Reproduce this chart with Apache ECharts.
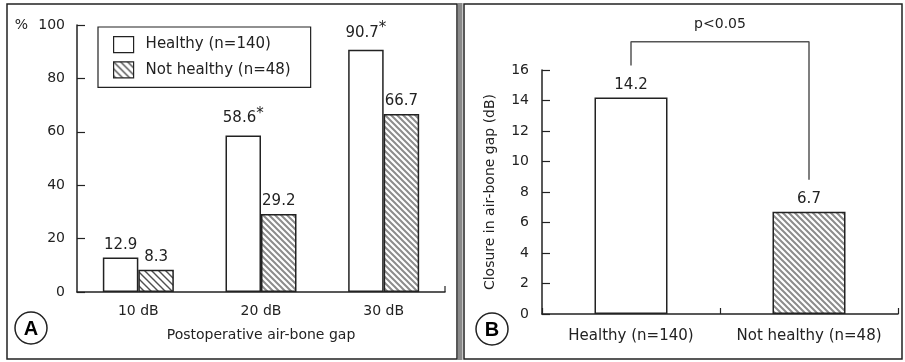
<!DOCTYPE html>
<html>
<head>
<meta charset="utf-8">
<style>
  html, body { margin: 0; padding: 0; background: #fff; }
  #chart { width: 905px; height: 362px; }
</style>
<script src="https://cdn.jsdelivr.net/npm/echarts@6/dist/echarts.min.js"></script>
</head>
<body>
<div id="chart"></div>
<script>
// Panel A: share of ears reaching each postoperative air-bone gap threshold
const categoriesA = ['10 dB', '20 dB', '30 dB'];
const healthyA = [12.9, 58.6, 90.7];
const notHealthyA = [8.3, 29.2, 66.7];
const starredA = [false, true, true];   // significant difference marker

// Panel B: mean closure in air-bone gap
const categoriesB = ['Healthy (n=140)', 'Not healthy (n=48)'];
const valuesB = [14.2, 6.7];
// significance bracket: [category index, dB]
const bracketB = [[0, 16.3], [0, 17.85], [1, 17.85], [1, 8.8]];
const bracketText = 'p<0.05';

const seriesNames = ['Healthy (n=140)', 'Not healthy (n=48)'];

const FONT = 'DejaVu Sans';
const INK = '#222';

function stripes(size, color, width) {
  const c = document.createElement('canvas');
  c.width = size; c.height = size;
  const g = c.getContext('2d');
  g.fillStyle = '#fff';
  g.fillRect(0, 0, size, size);
  g.strokeStyle = color;
  g.lineWidth = width;
  g.beginPath();
  // "\" diagonal, wrapped at the corners so the tile repeats seamlessly
  g.moveTo(-1, -1); g.lineTo(size + 1, size + 1);
  g.moveTo(-1, size - 1); g.lineTo(1, size + 1);
  g.moveTo(size - 1, -1); g.lineTo(size + 1, 1);
  g.stroke();
  return { image: c, repeat: 'repeat' };
}
const fineHatch = stripes(6, '#8c8c8c', 2);
const coarseHatch = stripes(7, '#505050', 1.4);

const chart = echarts.init(document.getElementById('chart'), null, { renderer: 'canvas' });

const valueLabel = {
  show: true,
  position: 'top',
  distance: 5,
  color: INK,
  fontFamily: FONT,
  fontSize: 15,
  rich: {
    v: { fontSize: 15, fontFamily: FONT, color: INK },
    s: { fontSize: 15, fontFamily: FONT, color: INK, padding: [0, 0, 9, 0] }
  }
};

const axisLine = { show: true, lineStyle: { color: INK, width: 1.5 } };

const option = {
  animation: false,
  textStyle: { fontFamily: FONT, color: INK },
  grid: [
    { left: 77, top: 25, width: 368, height: 267, containLabel: false },
    { left: 542, top: 70, width: 356, height: 244, containLabel: false }
  ],
  legend: {
    left: 98, top: 27,
    orient: 'vertical',
    itemWidth: 20, itemHeight: 16, itemGap: 8,
    padding: [9, 20, 9, 15],
    borderColor: INK, borderWidth: 1.2,
    textStyle: { fontSize: 15, fontFamily: FONT, color: INK, padding: [0, 0, 0, 7] },
    selectedMode: false,
    data: [
      { name: seriesNames[0], icon: 'rect', itemStyle: { color: '#fff', borderColor: INK, borderWidth: 1.2 } },
      { name: seriesNames[1], icon: 'rect', itemStyle: { color: coarseHatch, borderColor: INK, borderWidth: 1.2 } }
    ]
  },
  xAxis: [
    {
      gridIndex: 0, type: 'category', data: categoriesA,
      axisLine: axisLine, axisTick: { show: false },
      axisLabel: { fontSize: 14, color: INK, margin: 12, fontFamily: FONT, interval: 0 },
      name: 'Postoperative air-bone gap', nameLocation: 'middle', nameGap: 36,
      nameTextStyle: { fontSize: 14, color: INK, fontFamily: FONT }
    },
    {
      gridIndex: 1, type: 'category', data: categoriesB,
      axisLine: axisLine,
      axisTick: { show: true, inside: true, length: 6, lineStyle: { color: INK, width: 1.2 } },
      axisLabel: { fontSize: 15, color: INK, margin: 15, fontFamily: FONT, interval: 0 }
    }
  ],
  yAxis: [
    {
      gridIndex: 0, type: 'value', min: 0, max: 100, interval: 20,
      axisLine: axisLine,
      axisTick: { show: true, inside: true, length: 8, lineStyle: { color: INK, width: 1.2 } },
      splitLine: { show: false },
      axisLabel: { fontSize: 14, color: INK, margin: 12, fontFamily: FONT }
    },
    {
      gridIndex: 1, type: 'value', min: 0, max: 16, interval: 2,
      axisLine: axisLine,
      axisTick: { show: true, inside: true, length: 8, lineStyle: { color: INK, width: 1.2 } },
      splitLine: { show: false },
      axisLabel: { fontSize: 14, color: INK, margin: 13, fontFamily: FONT },
      name: 'Closure in air-bone gap (dB)', nameLocation: 'middle', nameGap: 45, nameRotate: 90,
      nameTextStyle: { fontSize: 14, color: INK, fontFamily: FONT }
    }
  ],
  series: [
    {
      name: seriesNames[0], type: 'bar', xAxisIndex: 0, yAxisIndex: 0,
      barWidth: 35.5, barGap: '0%',
      itemStyle: { color: '#fff', borderColor: INK, borderWidth: 1.5 },
      label: Object.assign({}, valueLabel, {
        formatter: p => starredA[p.dataIndex] ? '{v|' + p.value + '}{s|*}' : '{v|' + p.value + '}'
      }),
      data: healthyA
    },
    {
      name: seriesNames[1], type: 'bar', xAxisIndex: 0, yAxisIndex: 0,
      barWidth: 35.5, barGap: '0%',
      itemStyle: { color: fineHatch, borderColor: INK, borderWidth: 1.5 },
      label: Object.assign({}, valueLabel, { formatter: p => '{v|' + p.value + '}' }),
      data: notHealthyA.map((v, i) => i === 0 ? { value: v, itemStyle: { color: coarseHatch } } : v)
    },
    {
      name: 'closure', type: 'bar', xAxisIndex: 1, yAxisIndex: 1,
      barWidth: 73,
      label: Object.assign({}, valueLabel, { formatter: p => '{v|' + p.value + '}' }),
      data: valuesB.map((v, i) => ({
        value: v,
        itemStyle: { color: i === 0 ? '#fff' : fineHatch, borderColor: INK, borderWidth: 1.5 }
      }))
    },
    {
      name: 'bracket', type: 'line', xAxisIndex: 1, yAxisIndex: 1,
      symbol: 'none', silent: true, clip: false,
      lineStyle: { color: '#555', width: 1.5 },
      data: bracketB
    }
  ]
};

chart.setOption(option);

// Frames, panel letters, axis-end tick and the p-value text
const axisEndA = 77 + 368;
const yZeroA = chart.convertToPixel({ yAxisIndex: 0 }, 0);
const topBracket = chart.convertToPixel({ xAxisIndex: 1, yAxisIndex: 1 }, [bracketB[1][0], bracketB[1][1]]);
const topBracketR = chart.convertToPixel({ xAxisIndex: 1, yAxisIndex: 1 }, [bracketB[2][0], bracketB[2][1]]);
const yTopA = chart.convertToPixel({ yAxisIndex: 0 }, 100);

chart.setOption({
  graphic: [
    { type: 'rect', shape: { x: 7, y: 4, width: 450, height: 355 }, style: { fill: null, stroke: INK, lineWidth: 1.5 }, silent: true },
    { type: 'rect', shape: { x: 458, y: 3, width: 4.5, height: 357 }, style: { fill: '#8a8a8a' }, silent: true },
    { type: 'rect', shape: { x: 464, y: 4, width: 438, height: 355 }, style: { fill: null, stroke: INK, lineWidth: 1.5 }, silent: true },
    { type: 'line', shape: { x1: axisEndA, y1: yZeroA, x2: axisEndA, y2: yZeroA - 6 }, style: { stroke: INK, lineWidth: 1.2 }, silent: true },
    { type: 'text', x: 28, y: yTopA, style: { text: '%', font: '14px "DejaVu Sans"', fill: INK, textAlign: 'right', textVerticalAlign: 'middle' }, silent: true },
    { type: 'text', x: (topBracket[0] + topBracketR[0]) / 2, y: topBracket[1] - 17,
      style: { text: bracketText, font: '14px "DejaVu Sans"', fill: INK, textAlign: 'center', textVerticalAlign: 'middle' }, silent: true },
    { type: 'circle', shape: { cx: 31, cy: 328, r: 16 }, style: { fill: '#fff', stroke: INK, lineWidth: 1.5 }, silent: true },
    { type: 'text', x: 31, y: 329, style: { text: 'A', font: 'bold 20px "Liberation Sans"', fill: '#000', textAlign: 'center', textVerticalAlign: 'middle' }, silent: true },
    { type: 'circle', shape: { cx: 492, cy: 329, r: 16 }, style: { fill: '#fff', stroke: INK, lineWidth: 1.5 }, silent: true },
    { type: 'text', x: 492, y: 330, style: { text: 'B', font: 'bold 20px "Liberation Sans"', fill: '#000', textAlign: 'center', textVerticalAlign: 'middle' }, silent: true }
  ]
});
</script>
</body>
</html>
